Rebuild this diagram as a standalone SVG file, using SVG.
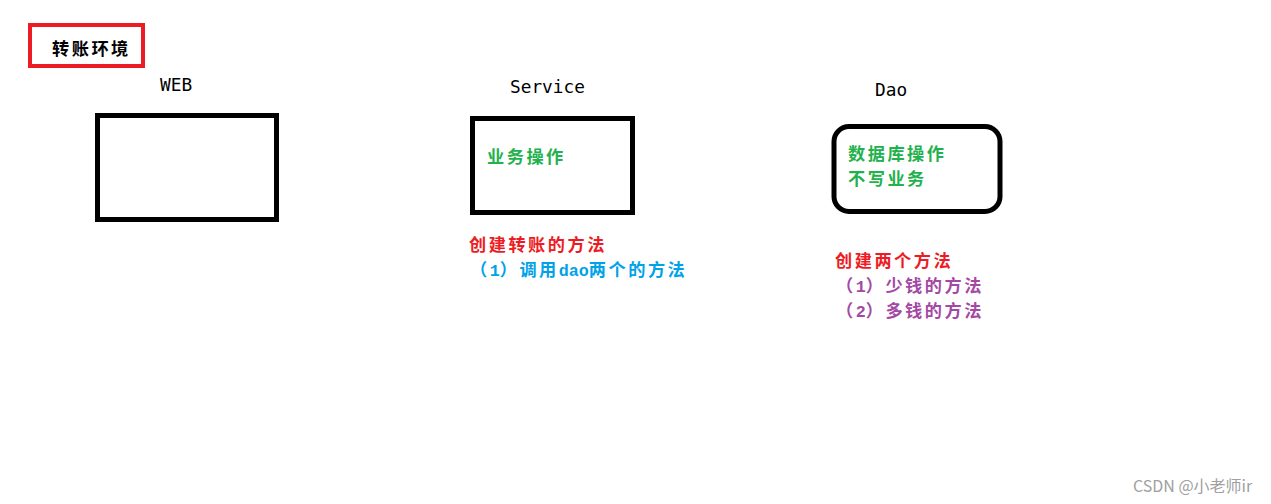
<svg xmlns="http://www.w3.org/2000/svg" width="1271" height="504" viewBox="0 0 1271 504">
<style>
.box{fill:none;stroke:#000;stroke-width:5}
.lbl{font-family:"DejaVu Sans Mono","Liberation Mono",monospace;font-size:17.8px;fill:#000}
.cn{font-family:"Noto Sans CJK SC","Noto Sans CJK JP",sans-serif;font-size:17.2px;font-weight:bold;letter-spacing:2.5px}
.asc{font-family:"Liberation Mono",monospace;font-size:16.7px;font-weight:bold;letter-spacing:0}
.green{fill:#22b14c}.red{fill:#ed1c24}.blue{fill:#00a2e8}.purple{fill:#a349a4}
</style>
<rect width="1271" height="504" fill="#fff"/>
<g id="title">
<rect x="30" y="25" width="113" height="41" fill="none" stroke="#ed1c24" stroke-width="4"/>
<text x="52" y="55" class="cn" fill="#000">转账环境</text>
</g>
<g id="web">
<text x="160" y="91" class="lbl">WEB</text>
<rect class="box" x="97.5" y="115.5" width="179" height="104"/>
</g>
<g id="service">
<text x="510" y="93" class="lbl">Service</text>
<rect class="box" x="472.5" y="118.5" width="160" height="94"/>
<text x="487" y="163" class="cn green">业务操作</text>
<text x="469" y="251" class="cn red">创建转账的方法</text>
<text x="470" y="276" class="cn blue">（<tspan class="asc">1</tspan>）调用<tspan class="asc">dao</tspan>两个的方法</text>
</g>
<g id="dao">
<text x="848" y="96" class="lbl" dx="27">Dao</text>
<rect class="box" x="834" y="126.5" width="166" height="85" rx="15"/>
<text x="848" y="160" class="cn green">数据库操作</text>
<text x="848" y="185" class="cn green">不写业务</text>
<text x="835" y="267" class="cn red">创建两个方法</text>
<text x="836" y="292" class="cn purple">（<tspan class="asc">1</tspan>）少钱的方法</text>
<text x="836" y="317" class="cn purple">（<tspan class="asc">2</tspan>）多钱的方法</text>
</g>
<g id="connectors"></g>
<text x="1133" y="492" font-family="'Noto Sans CJK SC',sans-serif" font-size="16" fill="#a0a0a0">CSDN @小老师ir</text>
</svg>
